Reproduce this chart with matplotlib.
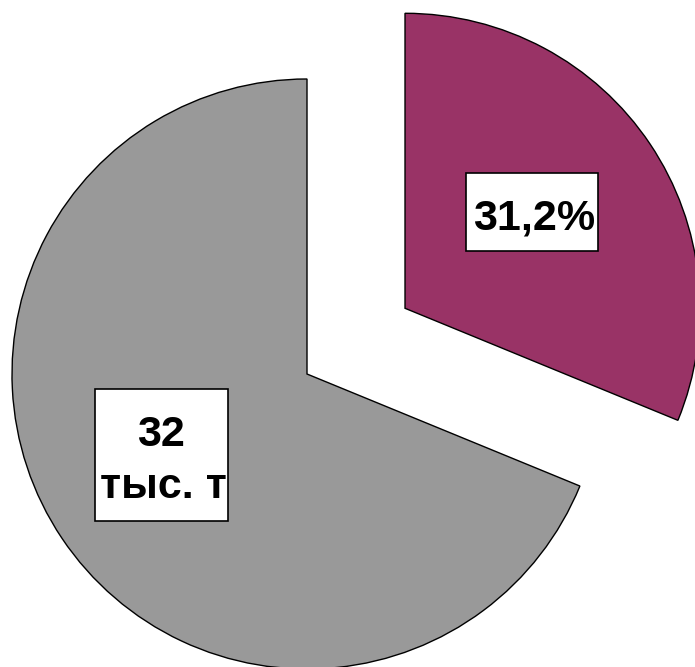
import matplotlib
matplotlib.use("Agg")
import matplotlib.pyplot as plt
from matplotlib.patches import Rectangle

plt.rcParams['font.family'] = ['Liberation Sans', 'DejaVu Sans']

# data
shares = [31.2, 68.8]
colors = ['#993366', '#999999']
explode_frac = [0.4, 0.0]
label_pct = "31,2%"
label_amount = ["32", "тыс. т"]

W, H = 695, 667
R = 295
fig = plt.figure(figsize=(W / 100, H / 100), dpi=100)
ax = fig.add_axes([0, 0, 1, 1])

ax.pie(shares, colors=colors, explode=[e * R for e in explode_frac], startangle=90,
       counterclock=False, center=(307, H - 374), radius=R, frame=True,
       wedgeprops=dict(edgecolor='black', linewidth=1.0))
ax.set_xlim(0, W)
ax.set_ylim(0, H)
ax.set_aspect('equal')
ax.axis('off')

fs = 31
# label boxes
ax.add_patch(Rectangle((466, H - 251), 132, 78, facecolor='white', edgecolor='black',
                       linewidth=1.2, zorder=5))
ax.text(534, H - 230, label_pct, ha='center', va='baseline', fontsize=fs,
        fontweight='bold', zorder=6)

ax.add_patch(Rectangle((95, H - 521), 133, 132, facecolor='white', edgecolor='black',
                       linewidth=1.2, zorder=5))
ax.text(161, H - 446, label_amount[0], ha='center', va='baseline', fontsize=fs,
        fontweight='bold', zorder=6)
ax.text(163, H - 498, label_amount[1], ha='center', va='baseline', fontsize=fs,
        fontweight='bold', zorder=6)

fig.savefig("out.png", dpi=100)
